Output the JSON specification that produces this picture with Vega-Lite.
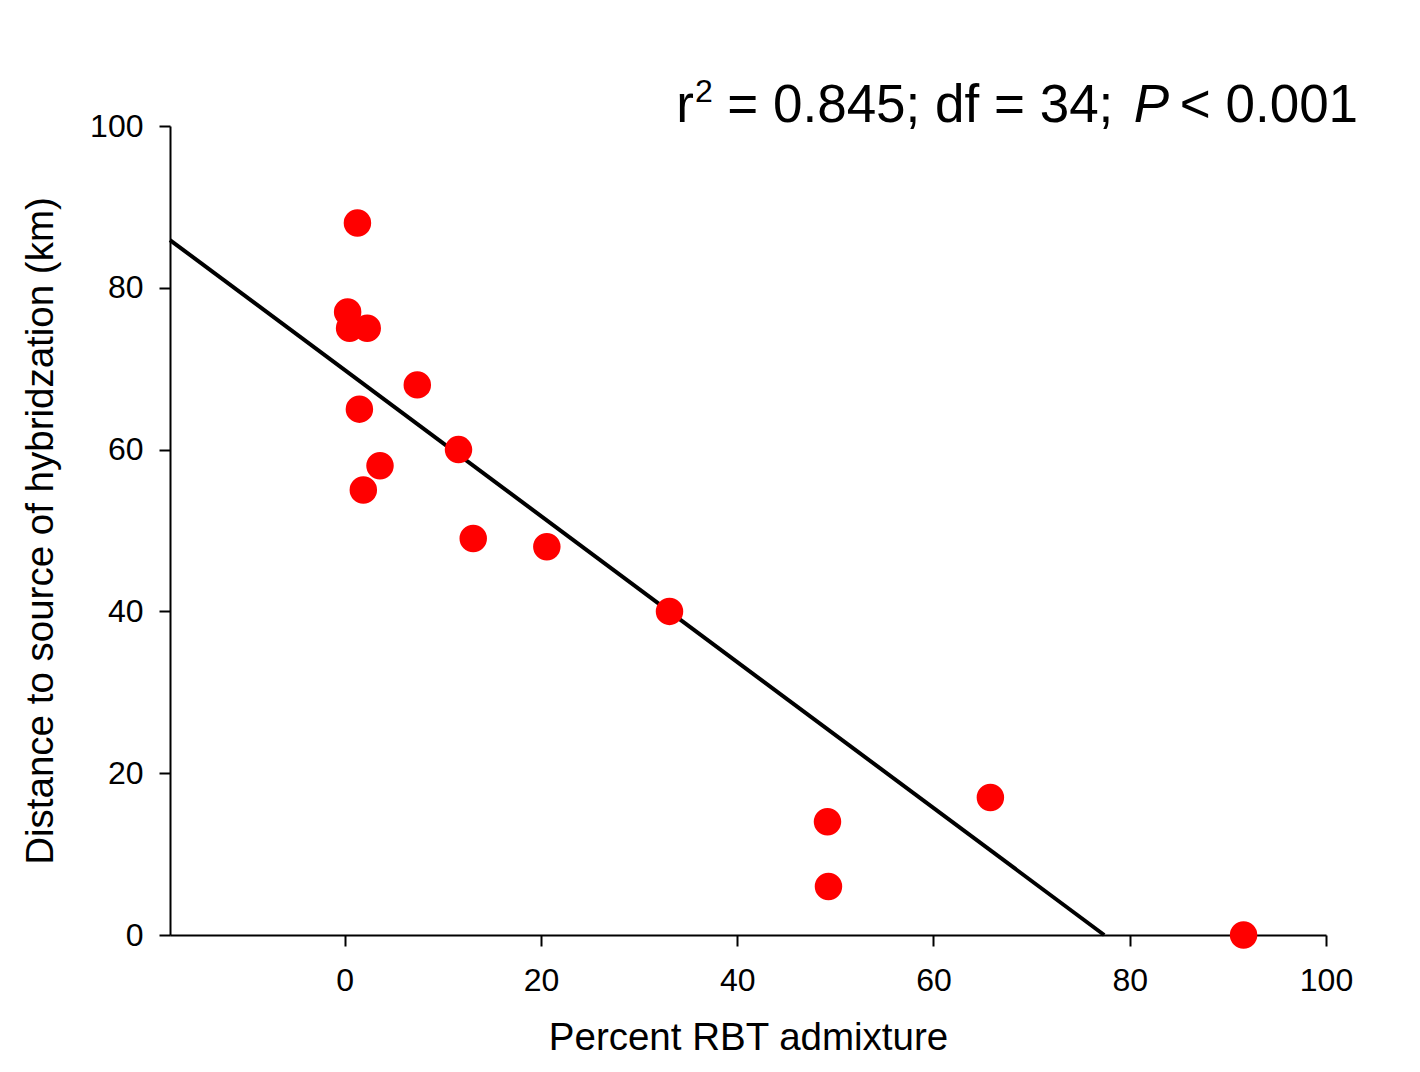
{
  "$schema": "https://vega.github.io/schema/vega-lite/v6.json",
  "width": 1156,
  "height": 809,
  "autosize": {"type": "none"},
  "padding": {"left": 170, "top": 126, "right": 94, "bottom": 137},
  "background": "white",
  "config": {
    "view": {"stroke": null},
    "font": "Liberation Sans",
    "axis": {
      "grid": false,
      "domainColor": "black",
      "domainWidth": 2,
      "tickColor": "black",
      "tickWidth": 2,
      "tickSize": 11,
      "labelFont": "Liberation Sans",
      "labelFontSize": 32,
      "labelColor": "black",
      "labelFlush": false,
      "labelOverlap": false,
      "titleFont": "Liberation Sans",
      "titleFontSize": 38.5,
      "titleFontWeight": "normal",
      "titleColor": "black"
    }
  },
  "datasets": {
    "points": [
      {"admixture": 1.3, "distance": 88},
      {"admixture": 0.3, "distance": 77},
      {"admixture": 0.5, "distance": 75},
      {"admixture": 2.3, "distance": 75},
      {"admixture": 7.4, "distance": 68},
      {"admixture": 1.5, "distance": 65},
      {"admixture": 11.6, "distance": 60},
      {"admixture": 3.6, "distance": 58},
      {"admixture": 1.9, "distance": 55},
      {"admixture": 13.1, "distance": 49},
      {"admixture": 20.6, "distance": 48},
      {"admixture": 33.1, "distance": 40},
      {"admixture": 49.2, "distance": 14},
      {"admixture": 49.3, "distance": 6},
      {"admixture": 65.8, "distance": 17},
      {"admixture": 91.6, "distance": 0}
    ],
    "fit": [
      {"admixture": -17.8, "distance": 85.9},
      {"admixture": 77.4, "distance": 0}
    ]
  },
  "layer": [
    {
      "data": {"name": "fit"},
      "mark": {"type": "line", "color": "black", "strokeWidth": 4, "clip": false},
      "encoding": {
        "x": {
          "field": "admixture",
          "type": "quantitative",
          "scale": {"domain": [-17.8, 100], "nice": false, "zero": false},
          "axis": {
            "values": [0, 20, 40, 60, 80, 100],
            "title": "Percent RBT admixture",
            "labelPadding": 19,
            "titlePadding": 23
          }
        },
        "y": {
          "field": "distance",
          "type": "quantitative",
          "scale": {"domain": [0, 100], "nice": false, "zero": false},
          "axis": {
            "values": [0, 20, 40, 60, 80, 100],
            "title": "Distance to source of hybridzation (km)",
            "labelPadding": 16,
            "titlePadding": 29
          }
        }
      }
    },
    {
      "data": {"name": "points"},
      "mark": {"type": "circle", "color": "#ff0000", "opacity": 1, "size": 755, "clip": false},
      "encoding": {
        "x": {"field": "admixture", "type": "quantitative"},
        "y": {"field": "distance", "type": "quantitative"}
      }
    },
    {
      "data": {"values": [{}]},
      "mark": {"type": "text", "align": "left", "baseline": "alphabetic", "fontSize": 53, "font": "Liberation Sans", "color": "black", "clip": false},
      "encoding": {
        "x": {"datum": 33.79, "type": "quantitative"},
        "y": {"datum": 100.5, "type": "quantitative"},
        "text": {"value": "r"}
      }
    },
    {
      "data": {"values": [{}]},
      "mark": {"type": "text", "align": "left", "baseline": "alphabetic", "fontSize": 32, "font": "Liberation Sans", "color": "black", "clip": false},
      "encoding": {
        "x": {"datum": 35.7, "type": "quantitative"},
        "y": {"datum": 102.95, "type": "quantitative"},
        "text": {"value": "2"}
      }
    },
    {
      "data": {"values": [{}]},
      "mark": {"type": "text", "align": "left", "baseline": "alphabetic", "fontSize": 53, "font": "Liberation Sans", "color": "black", "clip": false},
      "encoding": {
        "x": {"datum": 38.99, "type": "quantitative"},
        "y": {"datum": 100.5, "type": "quantitative"},
        "text": {"value": "= 0.845; df = 34;"}
      }
    },
    {
      "data": {"values": [{}]},
      "mark": {"type": "text", "align": "left", "baseline": "alphabetic", "fontSize": 53, "fontStyle": "italic", "font": "Liberation Sans", "color": "black", "clip": false},
      "encoding": {
        "x": {"datum": 80.4, "type": "quantitative"},
        "y": {"datum": 100.5, "type": "quantitative"},
        "text": {"value": "P"}
      }
    },
    {
      "data": {"values": [{}]},
      "mark": {"type": "text", "align": "left", "baseline": "alphabetic", "fontSize": 53, "font": "Liberation Sans", "color": "black", "clip": false},
      "encoding": {
        "x": {"datum": 85.1, "type": "quantitative"},
        "y": {"datum": 100.5, "type": "quantitative"},
        "text": {"value": "< 0.001"}
      }
    }
  ]
}
